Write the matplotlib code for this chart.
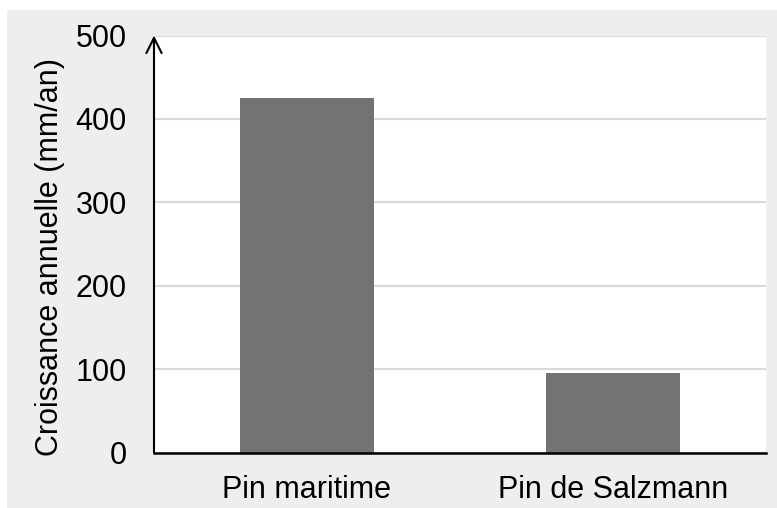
import matplotlib
matplotlib.use("Agg")
import matplotlib.pyplot as plt
from matplotlib.patches import Rectangle

categories = ["Pin maritime", "Pin de Salzmann"]
values = [425, 95]
yticks = [0, 100, 200, 300, 400, 500]
ylabel = "Croissance annuelle (mm/an)"

plt.rcParams['font.family'] = ['Liberation Sans', 'DejaVu Sans']

fig = plt.figure(figsize=(7.77, 5.08), dpi=100)
fig.patch.set_facecolor('white')
fig.patches.append(Rectangle((7/777, 0), 770/777, 498/508, transform=fig.transFigure,
                             facecolor='#eeeeee', edgecolor='none', zorder=-10))

W, H = 777, 508
left, right, bottom, top = 154, 766, 452.5, 35.5
ax = fig.add_axes([left / W, 1 - bottom / H, (right - left) / W, (bottom - top) / H])
ax.set_facecolor('white')

x = range(len(categories))
ax.bar(x, values, width=0.435, color='#737373', zorder=3)
ax.set_xlim(-0.5, len(categories) - 0.5)
ax.set_ylim(0, 500)
ax.set_yticks(yticks)
ax.set_xticks(list(x))
ax.set_xticklabels(categories)
ax.tick_params(axis='both', length=0, labelsize=22, colors='black')
ax.tick_params(axis='y', pad=19.5)
ax.tick_params(axis='x', pad=16)
ax.yaxis.grid(True, color='#d9d9d9', linewidth=1.5, zorder=0)
ax.set_axisbelow(True)
for s in ['top', 'right', 'left']:
    ax.spines[s].set_visible(False)
ax.spines['bottom'].set_color('black')
ax.spines['bottom'].set_linewidth(1.8)
ax.spines['bottom'].set_zorder(5)

ax.annotate('', xy=(0, 1.0), xycoords='axes fraction', xytext=(0, 0), textcoords='axes fraction',
            arrowprops=dict(arrowstyle='->,head_length=1.1,head_width=0.55', color='black', lw=1.5,
                            shrinkA=0, shrinkB=0), zorder=6, annotation_clip=False)

ax.set_ylabel(ylabel, fontsize=22)
ax.yaxis.set_label_coords(-(154 - 65) / (766 - 154), 0.469)

fig.savefig('out.png', dpi=100, facecolor=fig.get_facecolor())
